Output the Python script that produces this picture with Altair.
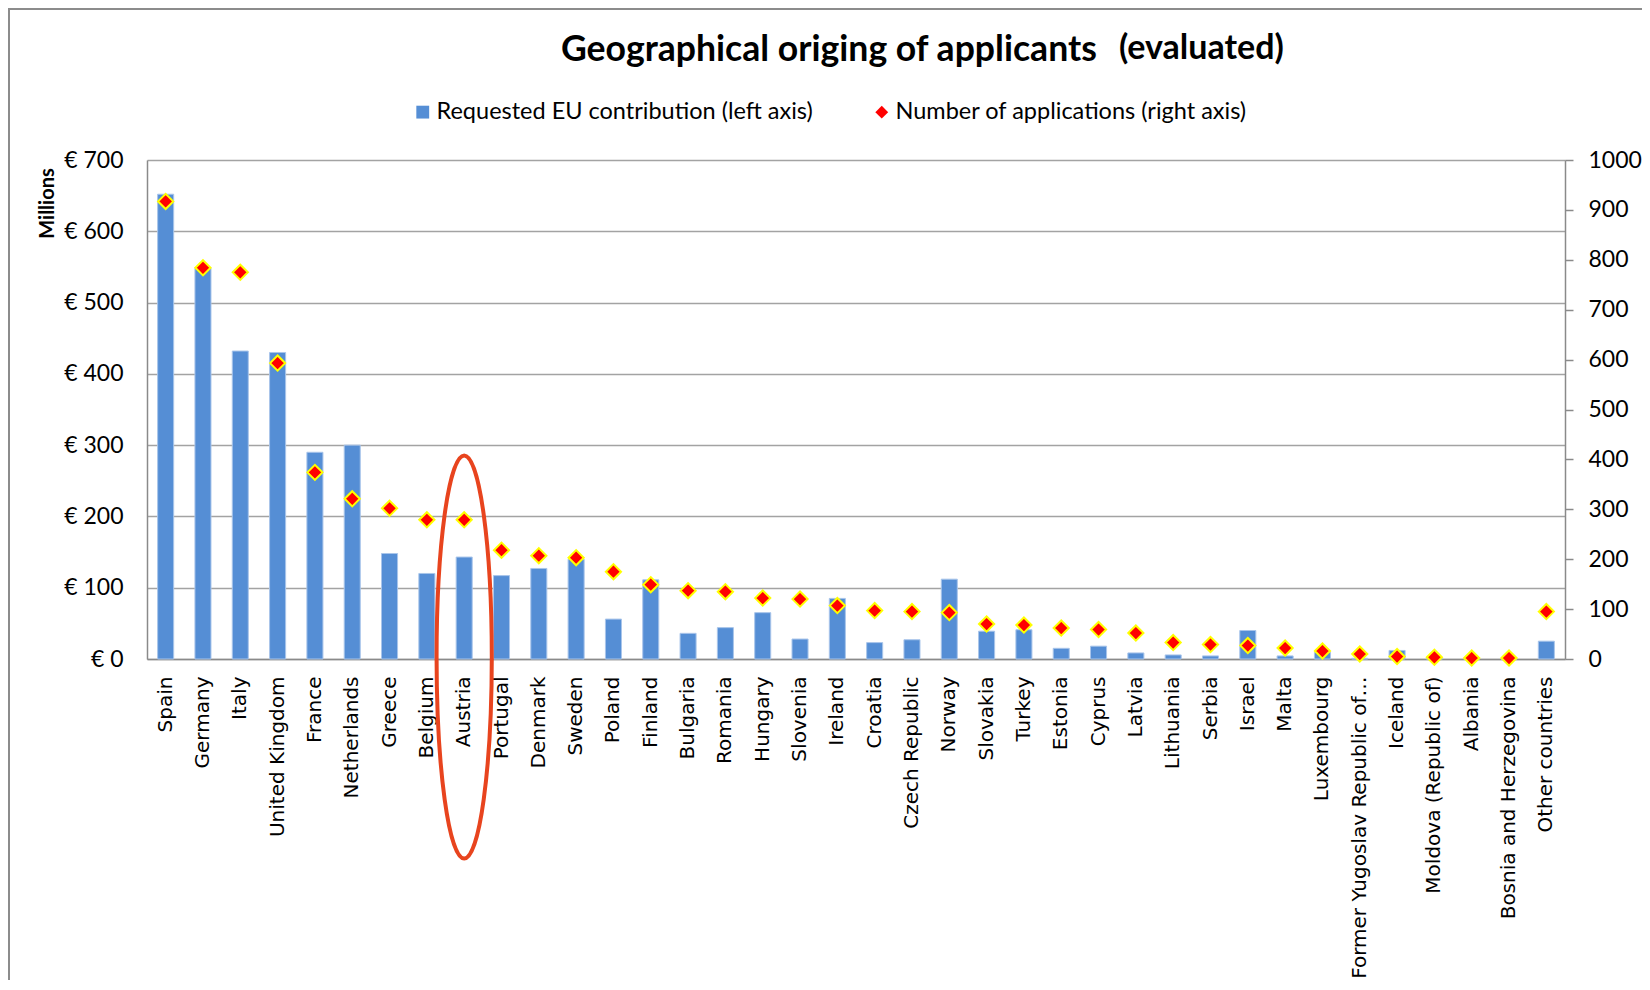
import altair as alt
import pandas as pd

countries = ["Spain", "Germany", "Italy", "United Kingdom", "France", "Netherlands", "Greece",
             "Belgium", "Austria", "Portugal", "Denmark", "Sweden", "Poland", "Finland", "Bulgaria",
             "Romania", "Hungary", "Slovenia", "Ireland", "Croatia", "Czech Republic", "Norway",
             "Slovakia", "Turkey", "Estonia", "Cyprus", "Latvia", "Lithuania", "Serbia", "Israel",
             "Malta", "Luxembourg", "Former Yugoslav Republic of\u2026", "Iceland",
             "Moldova (Republic of)", "Albania", "Bosnia and Herzegovina", "Other countries"]
contribution = [652, 549, 432, 430, 290, 300, 148, 120, 143, 117, 127, 140, 56, 111, 36, 44, 65,
                28, 85, 23, 27, 112, 39, 41, 15, 18, 8.5, 5.7, 4.3, 40, 4.3, 9.5, 1, 12, 0.5, 0.3,
                0.3, 25]
applications = [917, 784, 775, 593, 374, 321, 302, 279, 279, 218, 207, 203, 175, 149, 137, 135,
                122, 120, 107, 97, 95, 93, 70, 68, 62, 59, 52, 33, 29, 27, 22, 16, 10, 5, 3.4, 2,
                2, 95]

S_BAR = "Requested EU contribution (left axis)"
S_PT = "Number of applications (right axis)"
highlight = ["Austria"]

df = pd.DataFrame({"country": countries, "contribution": contribution,
                   "applications": applications})
df["bar_series"] = S_BAR
df["pt_series"] = S_PT

W, H = 1418, 499
PL, PT = 139, 152
GRAY = "#8a8a8a"

xenc = alt.X("country:N", sort=countries,
             scale=alt.Scale(paddingInner=0.57, paddingOuter=0.285),
             axis=alt.Axis(title=None, labelAngle=270, labelFont="DejaVu Sans", labelFontSize=20,
                           labelColor="#000", ticks=False, labelPadding=17, domainColor=GRAY,
                           domainWidth=1.5, labelLimit=400))

color_scale = alt.Scale(domain=[S_BAR, S_PT], range=["#558ED5", "#FF0000"])
shape_scale = alt.Scale(domain=[S_BAR, S_PT], range=["square", "diamond"])
legend = alt.Legend(title=None, orient="none", legendX=264, legendY=-60, direction="horizontal",
                    labelFont="Lato", labelFontSize=23.5, labelColor="#000", symbolSize=165,
                    symbolStrokeWidth=0, labelOffset=2, columnPadding=57, padding=0,
                    labelLimit=600, symbolOpacity=1)

bars = alt.Chart(df).mark_bar(stroke="#a9c5ea", strokeWidth=1).encode(
    x=xenc,
    y=alt.Y("contribution:Q", scale=alt.Scale(domain=[0, 700], nice=False),
            axis=alt.Axis(title="Millions", values=list(range(0, 701, 100)),
                          labelExpr="'\u20ac ' + datum.value", labelFont="Lato",
                          labelFontSize=23, labelColor="#000", ticks=False, labelPadding=24,
                          domainColor=GRAY, domainWidth=1.5, grid=True, gridColor="#a3a3a3",
                          gridWidth=1.5, titleFont="Lato", titleFontWeight="bold",
                          titleFontSize=20, titleColor="#000", titleAngle=270,
                          titleAlign="center", titleBaseline="middle", titleX=-100,
                          titleY=43)),
    color=alt.Color("bar_series:N", scale=color_scale, legend=legend),
)

points = alt.Chart(df).mark_point(filled=True, stroke="#FFFF00", strokeWidth=2, size=230,
                                  opacity=1, fillOpacity=1).encode(
    x=xenc,
    y=alt.Y("applications:Q", scale=alt.Scale(domain=[0, 1000], nice=False),
            axis=alt.Axis(title=None, orient="right", values=list(range(0, 1001, 100)),
                          format="d", labelFont="Lato", labelFontSize=23, labelColor="#000",
                          ticks=True, tickSize=8, tickColor=GRAY, tickWidth=1.5,
                          labelPadding=15, domainColor=GRAY, domainWidth=1.5, grid=False)),
    color=alt.Color("pt_series:N", scale=color_scale, legend=legend),
    shape=alt.Shape("pt_series:N", scale=shape_scale, legend=legend),
)

ellipse_path = "M0,-1 A0.137,1 0 1,1 0,1 A0.137,1 0 1,1 0,-1 Z"
ring = alt.Chart(df[df["country"].isin(highlight)]).mark_point(
    shape=ellipse_path, size=403 * 403, filled=False, stroke="#E8441E", strokeWidth=4,
    opacity=1, dx=6).encode(x=xenc, y=alt.value(497))

title1 = alt.Chart(pd.DataFrame({"t": ["Geographical origing of applicants"]})).mark_text(
    font="Lato", fontWeight="bold", fontSize=35.6, align="left", baseline="alphabetic",
    color="#000").encode(text="t:N", x=alt.value(414), y=alt.value(-99))
title2 = alt.Chart(pd.DataFrame({"t": ["(evaluated)"]})).mark_text(
    font="Lato", fontWeight="bold", fontSize=34, align="left", baseline="alphabetic",
    color="#000").encode(text="t:N", x=alt.value(972), y=alt.value(-101))

frame = alt.Chart(pd.DataFrame({"a": [0]})).mark_rect(
    fill=None, stroke="#8c8c8c", strokeWidth=2).encode(
    x=alt.value(-138), x2=alt.value(1600), y=alt.value(-151), y2=alt.value(900))

base = alt.layer(bars, points).resolve_scale(y="independent")
chart = alt.layer(frame, base, ring, title1, title2).properties(
    width=W, height=H,
    autosize=alt.AutoSizeParams(type="none"),
    padding={"left": PL, "top": PT, "right": 1634 - PL - W, "bottom": 972 - PT - H},
    background="white",
).configure_view(stroke=None)

chart.save("out.html", embed_options={"renderer": "svg", "actions": False})
